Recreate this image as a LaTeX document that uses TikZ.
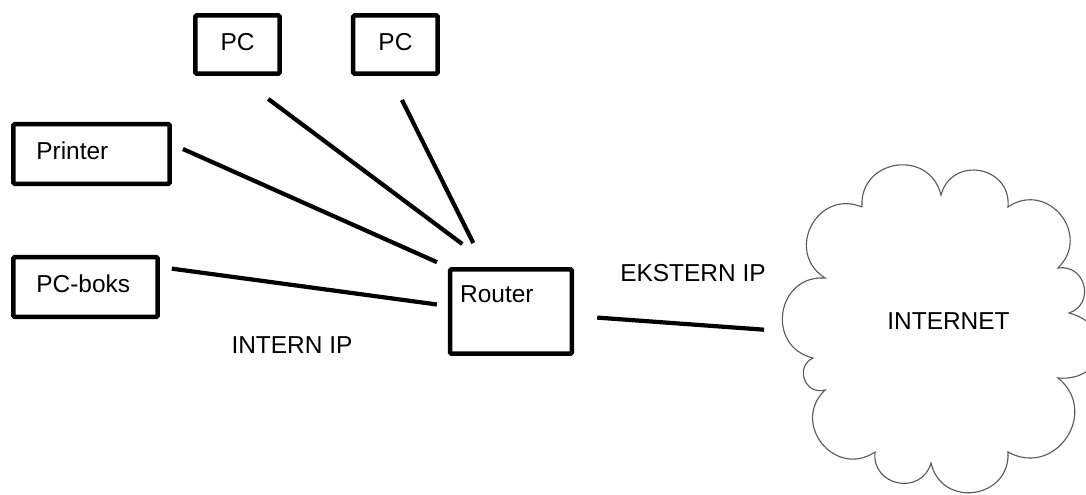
\documentclass[tikz,border=0pt]{standalone}
\usepackage{fontspec}
\setmainfont{Liberation Sans}
\usetikzlibrary{positioning}
\definecolor{cloudgray}{HTML}{5A5A5A}
\tikzset{
  box/.style={draw,line width=3.2pt,rounded corners=1pt,align=left,text height=0.44cm,text depth=0.16cm},
  wire/.style={line width=3pt},
  lbl/.style={inner sep=0pt}
}

\begin{document}
\begin{tikzpicture}[x=0.025cm,y=-0.025cm,font=\fontsize{17.4}{21}\selectfont,
      pcbox/.style={box,minimum width=2.11cm,minimum height=1.46cm},
      puff/.style={bend left=85,looseness=1.55}]
    \useasboundingbox[fill=white] (0,0) rectangle (1086,494);
    \node[pcbox] (pc1) at (237.5,44.5) {PC};
    \node[pcbox,right=1.725cm of pc1] (pc2) {PC};
    \node[box,text width=2.76cm,inner xsep=0.575cm,minimum height=1.49cm] (printer) at (91.5,154) {Printer};
    \node[box,text width=2.46cm,inner xsep=0.575cm,minimum height=1.49cm] (pcboks) at (85.5,287) {PC-boks};
    \node[box,text width=2.54cm,inner xsep=0.25cm,minimum height=2.11cm,text depth=0.89cm] (router) at (511,311.5) {Router};
    \node[lbl] (intern) at (292,345.5) {INTERN IP};
    \node[lbl] (ekstern) at (693,273.5) {EKSTERN IP};
    \node[lbl] (internet) at (948.5,321) {INTERNET};
    % cloud, puff by puff clockwise from the top left
    \draw[cloudgray,line width=0.8pt] (862,207) to[puff] (941,195) to[puff] (1008,207)
      to[puff] (1058,268) to[puff] (1069,313) to[puff,looseness=1.9] (1058,378)
      to[puff] (1008,452) to[puff] (931,463) to[puff] (875,452) to[puff] (825,390)
      to[puff] (813,358) to[puff] (825,278) to[puff] (862,207);
    \coordinate (cloudedge) at (782,331);
    \draw[wire,shorten <=0.96cm,shorten >=0.96cm] (pc1.south) -- (router.112);
    \draw[wire,shorten <=0.67cm,shorten >=0.67cm] (pc2.260) -- (router.120);
    \draw[wire,shorten <=0.3cm,shorten >=0.3cm] (printer.7) -- (router.north west);
    \draw[wire,shorten <=0.3cm,shorten >=0.28cm] (pcboks.15) -- (router.175);
    \draw[wire,shorten <=0.58cm,shorten >=0.45cm] (router.-4) -- (cloudedge);
  \end{tikzpicture}
\end{document}
